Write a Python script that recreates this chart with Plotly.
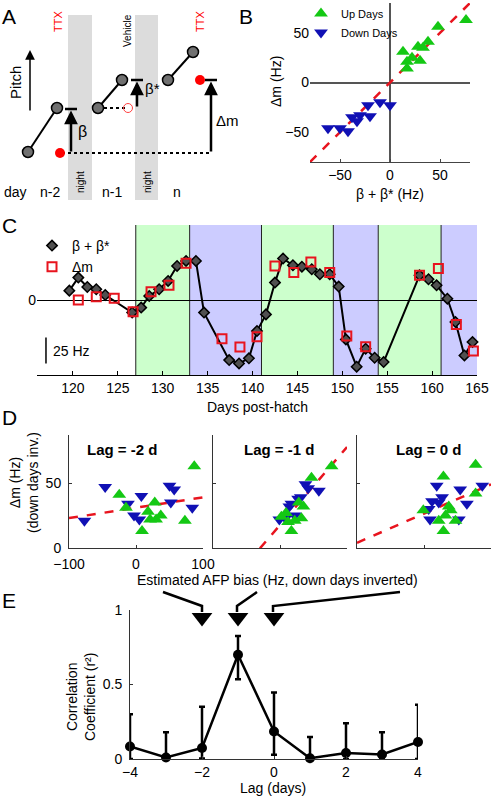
import plotly.graph_objects as go

W, H = 494, 798
FONT = "Liberation Sans, Arial, sans-serif"
GREEN = "#14c814"
BLUE = "#1010b4"
RED = "#e8141e"

# ---------------- Panel A (schematic, units = schematic time / pitch) -------
a_night_x = [[68, 92], [135, 158]]
a_seg_x = [[28, 57], [98, 122], [168, 193]]
a_seg_y = [[152, 108], [108, 80], [80, 52]]
a_red_x = [60, 200]
a_red_y = [153, 80]
a_ghost_x = [128]
a_ghost_y = [108]
a_dot_x = [[98, 128], [62, 211]]
a_dot_y = [[108, 108], [153, 153]]
a_arrow_x = [71, 137, 211]
a_arrow_y0 = [153, 108, 153]
a_arrow_y1 = [109, 80, 80]

# ---------------- Panel B --------------------------------------------------
b_up_x = [13, 17, 17, 22, 28, 30, 33, 38, 48, 76]
b_up_y = [31, 21, 14, 25, 36, 22, 35, 41, 56, 63]
b_dn_x = [-62, -50, -42, -38, -33, -30, -22, -20, -10, 0]
b_dn_y = [-46, -46, -49, -35, -39, -33, -23, -34, -20, -23]
b_fit = [-80, 80]

# ---------------- Panel C --------------------------------------------------
bb_day = [119.6, 120.6, 121.6, 122.6, 123.6, 126.6, 127.6, 128.5, 129.6, 130.6,
          131.6, 132.6, 133.7, 134.6, 137.4, 138.5, 139.6, 140.5, 141.5, 142.5,
          143.4, 144.5, 145.5, 146.6, 147.5, 148.6, 149.6, 150.4, 151.6, 152.6,
          153.6, 154.6, 158.6, 159.6, 160.5, 161.7, 162.6, 163.6, 164.5]
bb_val = [9, 21.5, 12.5, 10.3, 4.8, -12, -7.3, 3.9, 10.3, 18.3,
          32.7, 37.5, 37.5, -12.1, -57.7, -60.9, -56, -29.8, -13.8, 16.7,
          39.8, 33.4, 32, 29.5, 24.7, 24.7, 12.9, -37.8, -64, -46.7,
          -55.4, -59.6, 23.7, 19.9, 14.1, 1.3, -21.1, -53.2, -40.4]
dm_day = [120.6, 122.6, 124.6, 126.7, 128.7, 130.7, 132.6, 136.6, 138.6, 140.5,
          142.5, 144.6, 146.5, 148.6, 150.5, 152.6, 158.6, 160.7, 162.7, 164.6]
dm_val = [0, 3.2, 1.6, -11.2, 8, 14.1, 35.3, -37.1, -45.2, -35.2,
          32.7, 26.3, 36.5, 26.3, -34.6, -44.8, 23.7, 30.2, -23.4, -49]
band_edges = [127, 133, 141, 149, 154, 161, 165]
band_kind = ["up", "down", "up", "down", "up", "down"]
c_ticks = [120, 125, 130, 135, 140, 145, 150, 155, 160, 165]

# ---------------- Panel D --------------------------------------------------
d_titles = ["Lag = -2 d", "Lag = -1 d", "Lag = 0 d"]
d_up_x = [[-25, -15, 9, 18, 21, 28, 30, 37, 73, 87],
          [2, 9, 17, 12, 22, 28, 32, 35, 47, 77],
          [-1, 29, 77, 77, 37, 32, 22, 29, 47, 40]]
d_up_y = [[41, 31, 13, 28, 22, 35, 22, 25, 21, 63],
          [24, 27, 13, 20, 21, 35, 23, 32, 54, 63],
          [29, 55, 64, 42, 32, 25, 21, 13, 21, 29]]
d_dn_x = [[-77, -46, -12, -3, 5, 8, 50, 57, 52, 84],
          [-1, 8, 14, 17, 22, 27, 31, 38, 42, 58],
          [19, 7, 12, 27, 9, 22, 54, 64, 52, 87]]
d_dn_y = [[21, 47, 34, 25, 22, 40, 48, 45, 35, 31],
          [22, 23, 32, 34, 25, 38, 39, 49, 46, 44],
          [48, 30, 36, 39, 22, 35, 45, 34, 22, 48]]
d_icpt = [31, 17.7, 26.5]
d_slope = [0.08, 0.6, 0.225]
d_xspan = [-100, 100]

# ---------------- Panel E --------------------------------------------------
lags = [-4, -3, -2, -1, 0, 1, 2, 3, 4]
r2 = [0.084, 0.01, 0.074, 0.70, 0.185, 0.005, 0.04, 0.03, 0.114]
r2_hi = [0.30, 0.18, 0.35, 0.826, 0.446, 0.147, 0.24, 0.18, 0.364]
r2_lo = [0.0, 0.0, 0.003, 0.536, 0.029, 0.0, 0.0, 0.0, 0.0]
pointer_lags = [-2, -1, 0]
pointer_level = 0.95


def xd(a, b):
    return [a / W, b / W]


def yd(top, bottom):
    return [1 - bottom / H, 1 - top / H]


def px(x):
    return x / W


def py(y):
    return 1 - y / H


fig = go.Figure()
ann = []
shapes = []


def txt(x, y, s, size=14, color="black", angle=0, xanchor="center",
        yanchor="middle", ref=("paper", "paper")):
    if ref == ("paper", "paper"):
        x, y = px(x), py(y)
    ann.append(dict(x=x, y=y, xref=ref[0], yref=ref[1], text=s, showarrow=False,
                    textangle=angle, xanchor=xanchor, yanchor=yanchor,
                    font=dict(size=size, color=color, family=FONT)))


# ---------- A ----------
for nx in a_night_x:
    shapes.append(dict(type="rect", xref="x", yref="y", x0=nx[0], x1=nx[1],
                       y0=15, y1=200, fillcolor="#dcdcdc", line=dict(width=0),
                       layer="below"))
for dx_, dy_ in zip(a_dot_x, a_dot_y):
    fig.add_trace(go.Scatter(x=dx_, y=dy_, mode="lines", xaxis="x", yaxis="y",
                             line=dict(color="black", width=2, dash="dot"),
                             showlegend=False, hoverinfo="skip"))
for sx, sy in zip(a_seg_x, a_seg_y):
    fig.add_trace(go.Scatter(x=sx, y=sy, mode="lines+markers", xaxis="x", yaxis="y",
                             line=dict(color="black", width=2),
                             marker=dict(size=11, color="#707070",
                                         line=dict(color="black", width=1.5)),
                             showlegend=False, cliponaxis=False, hoverinfo="skip"))
fig.add_trace(go.Scatter(x=a_red_x, y=a_red_y, mode="markers", xaxis="x", yaxis="y",
                         marker=dict(size=10, color="#ff0000"), showlegend=False,
                         cliponaxis=False, hoverinfo="skip"))
fig.add_trace(go.Scatter(x=a_ghost_x, y=a_ghost_y, mode="markers", xaxis="x", yaxis="y",
                         marker=dict(size=9, symbol="circle-open", color="#ff4040",
                                     line=dict(width=1)),
                         showlegend=False, cliponaxis=False, hoverinfo="skip"))
for ax_, y0, y1 in zip(a_arrow_x, a_arrow_y0, a_arrow_y1):
    ann.append(dict(x=ax_, y=y1 + 1.5, xref="x", yref="y", ax=ax_, ay=y0,
                    axref="x", ayref="y", showarrow=True, arrowhead=2,
                    arrowsize=1.1, arrowwidth=2.5, arrowcolor="black", text=""))
    shapes.append(dict(type="line", xref="x", yref="y", x0=ax_ - 6, x1=ax_ + 6,
                       y0=y1, y1=y1, line=dict(color="black", width=2.5)))
ann.append(dict(x=30, y=50, xref="x", yref="y", ax=30, ay=112, axref="x",
                ayref="y", showarrow=True, arrowhead=2, arrowsize=1.3,
                arrowwidth=1.5, arrowcolor="black", text=""))
txt(82, 131, "β", 16)
txt(152, 88, "β*", 15)
txt(227, 120, "Δm", 15)
txt(15, 83, "Pitch", 15, angle=-90)
txt(58, 22, "TTX", 11, color="#ff0000", angle=-90)
txt(200, 22, "TTX", 11, color="#ff0000", angle=-90)
txt(127, 30, "Vehicle", 10, angle=-90)
txt(80, 182, "night", 10, angle=-90)
txt(147, 182, "night", 10, angle=-90)
for s, x in zip(["day", "n-2", "n-1", "n"], [15, 50, 112, 177]):
    txt(x, 192, s, 14)

# ---------- B ----------
fig.add_trace(go.Scatter(x=b_fit, y=b_fit, mode="lines", xaxis="x2", yaxis="y2",
                         line=dict(color=RED, width=2.5, dash="dash"),
                         showlegend=False, hoverinfo="skip"))
fig.add_trace(go.Scatter(x=b_up_x, y=b_up_y, mode="markers", xaxis="x2", yaxis="y2",
                         name="Up Days", legend="legend",
                         marker=dict(symbol="triangle-up", size=12, color=GREEN),
                         cliponaxis=False))
fig.add_trace(go.Scatter(x=b_dn_x, y=b_dn_y, mode="markers", xaxis="x2", yaxis="y2",
                         name="Down Days", legend="legend",
                         marker=dict(symbol="triangle-down", size=12, color=BLUE),
                         cliponaxis=False))
txt(390, 194, "β + β* (Hz)", 14)
txt(276, 82, "Δm (Hz)", 14, angle=-90)

# ---------- C ----------
band_col = {"up": "#ccffcc", "down": "#ccccff"}
for i, k in enumerate(band_kind):
    shapes.append(dict(type="rect", xref="x3", yref="y3 domain",
                       x0=band_edges[i], x1=band_edges[i + 1], y0=0, y1=1,
                       fillcolor=band_col[k], line=dict(width=0), layer="below"))
for e in band_edges[:-1]:
    shapes.append(dict(type="line", xref="x3", yref="y3 domain", x0=e, x1=e,
                       y0=0, y1=1, line=dict(color="#222", width=1), layer="below"))
diamond_marker = dict(symbol="diamond", size=8, color="#505050",
                      line=dict(color="black", width=1.5))
fig.add_trace(go.Scatter(x=bb_day, y=bb_val, mode="lines+markers", xaxis="x3",
                         yaxis="y3", showlegend=False,
                         line=dict(color="black", width=2),
                         marker=diamond_marker, cliponaxis=False))
# legend key only (markers, no line)
fig.add_trace(go.Scatter(x=[None], y=[None], mode="markers", xaxis="x3", yaxis="y3",
                         name="β + β*", legend="legend2", marker=diamond_marker))
fig.add_trace(go.Scatter(x=dm_day, y=dm_val, mode="markers", xaxis="x3", yaxis="y3",
                         name="Δm", legend="legend2",
                         marker=dict(symbol="square-open", size=9, color=RED,
                                     line=dict(width=2)),
                         cliponaxis=False))
shapes.append(dict(type="line", xref="x3", yref="y3", x0=117, x1=117, y0=-61,
                   y1=-36, line=dict(color="black", width=1.5)))
txt(117.6, -48.5, "25 Hz", 14, xanchor="left", ref=("x3", "y3"))
txt(257, 407, "Days post-hatch", 14)

# ---------- D ----------
for i in range(3):
    xa, ya = f"x{4 + i}", f"y{4 + i}"
    fig.add_trace(go.Scatter(x=d_xspan,
                             y=[d_icpt[i] + d_slope[i] * v for v in d_xspan],
                             mode="lines", xaxis=xa, yaxis=ya,
                             line=dict(color=RED, width=2.5, dash="dash"),
                             showlegend=False, hoverinfo="skip"))
    fig.add_trace(go.Scatter(x=d_dn_x[i], y=d_dn_y[i], mode="markers", xaxis=xa,
                             yaxis=ya, showlegend=False,
                             marker=dict(symbol="triangle-down", size=12, color=BLUE),
                             cliponaxis=False))
    fig.add_trace(go.Scatter(x=d_up_x[i], y=d_up_y[i], mode="markers", xaxis=xa,
                             yaxis=ya, showlegend=False,
                             marker=dict(symbol="triangle-up", size=12, color=GREEN),
                             cliponaxis=False))
for s, x in zip(d_titles, [122, 279, 428]):
    txt(x, 449, "<b>" + s + "</b>", 15)
txt(24, 483, "Δm (Hz)<br>(down days inv.)", 14, angle=-90)
txt(277, 580, "Estimated AFP bias (Hz, down days inverted)", 14)

# ---------- E ----------
fig.add_trace(go.Scatter(
    x=lags, y=r2, mode="lines+markers", xaxis="x7", yaxis="y7", showlegend=False,
    line=dict(color="black", width=2.5),
    marker=dict(size=10, color="black"),
    error_y=dict(type="data", symmetric=False,
                 array=[h - v for h, v in zip(r2_hi, r2)],
                 arrayminus=[v - l for v, l in zip(r2, r2_lo)],
                 color="black", thickness=2.5, width=3),
    cliponaxis=False))
fig.add_trace(go.Scatter(x=pointer_lags, y=[pointer_level] * len(pointer_lags),
                         mode="markers", xaxis="x7", yaxis="y7", showlegend=False,
                         marker=dict(symbol="triangle-down", size=18, color="black"),
                         cliponaxis=False, hoverinfo="skip"))
for p in [[(163, 592), (202, 606), (202, 612)],
          [(257, 592), (237, 606), (237, 612)],
          [(400, 592), (273, 606), (273, 612)]]:
    path = "M " + " L ".join(f"{px(a)} {py(b)}" for a, b in p)
    shapes.append(dict(type="path", xref="paper", yref="paper", path=path,
                       line=dict(color="black", width=2.5)))
txt(81, 697, "Correlation<br>Coefficient (r²)", 14, angle=-90)
txt(273, 788, "Lag (days)", 14)

# panel letters
for s, x, y in [("A", 9, 17), ("B", 246, 16), ("C", 9, 226), ("D", 9, 417),
                ("E", 9, 600)]:
    txt(x, y, s, 21)

tickf = dict(size=14, color="black", family=FONT)
ax_common = dict(showgrid=False, fixedrange=True, tickfont=tickf, automargin=False)

layout = dict(
    width=W, height=H,
    margin=dict(l=0, r=0, t=0, b=0, pad=0, autoexpand=False),
    paper_bgcolor="white", plot_bgcolor="white",
    font=dict(family=FONT, color="black"),
    annotations=ann, shapes=shapes,
    legend=dict(x=px(301), y=py(-1), xanchor="left", yanchor="top",
                bgcolor="rgba(0,0,0,0)", font=dict(size=11, family=FONT),
                tracegroupgap=0, itemclick=False),
    legend2=dict(x=px(32), y=py(230), xanchor="left", yanchor="top",
                 bgcolor="rgba(0,0,0,0)", font=dict(size=14, family=FONT),
                 tracegroupgap=0, itemclick=False),
    xaxis=dict(domain=xd(0, 250), range=[0, 250], visible=False, anchor="y",
               fixedrange=True, automargin=False),
    yaxis=dict(domain=yd(0, 200), range=[200, 0], visible=False, anchor="x",
               fixedrange=True, automargin=False),
    xaxis2=dict(domain=xd(310, 470), range=[-80, 80], anchor="y2",
                tickvals=[-50, 0, 50], showline=True, linecolor="#444",
                ticks="inside", ticklen=3, tickcolor="#444", zeroline=True,
                zerolinecolor="#555", zerolinewidth=1.5, **ax_common),
    yaxis2=dict(domain=yd(3, 162), range=[-80, 80], anchor="x2",
                tickvals=[-50, 0, 50], showline=False, ticks="", zeroline=True,
                zerolinecolor="#555", zerolinewidth=1.5, **ax_common),
    xaxis3=dict(domain=xd(37, 477), range=[116, 165], anchor="y3",
                tickvals=c_ticks, showline=True, linecolor="black",
                ticks="inside", ticklen=4, tickcolor="black", zeroline=False,
                **ax_common),
    yaxis3=dict(domain=yd(225, 375), range=[-72, 72], anchor="x3",
                tickvals=[0], showline=False, ticks="", zeroline=True,
                zerolinecolor="black", zerolinewidth=1, **ax_common),
    xaxis7=dict(domain=xd(130, 418), range=[-4, 4], anchor="y7",
                tickvals=[-4, -2, 0, 2, 4], showline=True, linecolor="#333",
                ticks="inside", ticklen=3, tickcolor="#333", zeroline=False,
                ticklabelstandoff=0, **ax_common),
    yaxis7=dict(domain=yd(610, 759), range=[0, 1], anchor="x7",
                tickvals=[0, 0.5, 1], ticktext=["0", "0.5", "1"], showline=True,
                linecolor="#333", ticks="inside", ticklen=3, tickcolor="#333",
                zeroline=False, ticklabelstandoff=4, **ax_common),
)
for i, x0 in enumerate([69, 213, 357]):
    n = 4 + i
    layout[f"xaxis{n}"] = dict(domain=xd(x0, x0 + 134), range=[-100, 100],
                               anchor=f"y{n}", tickvals=[-100, 0, 100],
                               showticklabels=(i == 0), showline=True,
                               linecolor="#333", ticks="inside", ticklen=3,
                               tickcolor="#333", zeroline=False,
                               ticklabelstandoff=3, **ax_common)
    layout[f"yaxis{n}"] = dict(domain=yd(435, 548), range=[0, 87], anchor=f"x{n}",
                               tickvals=[0, 50], showticklabels=(i == 0),
                               showline=True, linecolor="#333", ticks="inside",
                               ticklen=3, tickcolor="#333", zeroline=False,
                               ticklabelstandoff=4, **ax_common)

fig.update_layout(**layout)
# remove the browser's default 8px page margin so the figure fills the window
fig.write_html("out.html", config={"displayModeBar": False},
               post_script="document.body.style.margin='0px';"
                           "document.body.style.overflow='hidden';")
